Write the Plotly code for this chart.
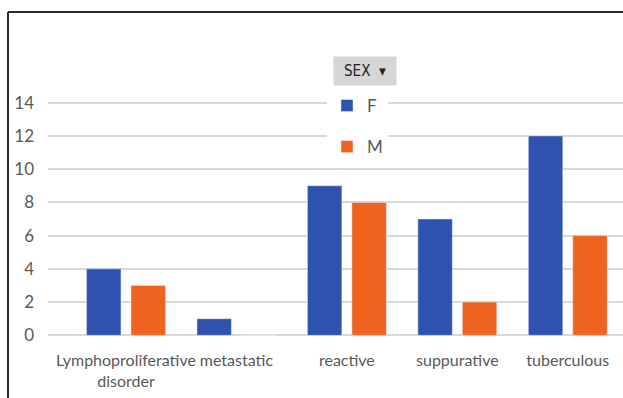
import plotly.graph_objects as go

# Diagnosis counts by sex
categories = ["Lymphoproliferative<br>disorder", "metastatic", "reactive", "suppurative", "tuberculous"]
female = [4, 1, 9, 7, 12]
male = [3, 0, 8, 2, 6]
y_ticks = [0, 2, 4, 6, 8, 10, 12, 14]

BLUE = "#2F52B0"
ORANGE = "#EF631F"
TEXT = "#595959"
FONT = "Lato"

W, H = 623, 398
ML, MR, MT, MB = 48, 0, 101.0, 61.3
PW, PH = W - ML - MR, H - MT - MB


def px_x(x):
    return (x - ML) / PW


def px_y(y):
    return (H - MB - y) / PH


fig = go.Figure()
fig.add_trace(go.Bar(x=categories, y=female, name="F", marker_color=BLUE,
                     legendgroup="F"))
fig.add_trace(go.Bar(x=categories, y=male, name="M", marker_color=ORANGE,
                     legendgroup="M"))

fig.update_layout(
    width=W, height=H,
    margin=dict(l=ML, r=MR, t=MT, b=MB, pad=0, autoexpand=False),
    paper_bgcolor="white", plot_bgcolor="white",
    barmode="group", bargap=0.195, bargroupgap=0.225,
    font=dict(family=FONT, size=17, color=TEXT),
    showlegend=True,
    legend=dict(
        x=px_x(327), y=px_y(88), xanchor="left", yanchor="top",
        bgcolor="white", borderwidth=0,
        traceorder="grouped", tracegroupgap=16,
        font=dict(family=FONT, size=17, color=TEXT),
    ),
    xaxis=dict(
        type="category", range=[-0.706, 4.5], automargin=False,
        showgrid=False, showline=False, zeroline=False,
        ticks="", ticklabelstandoff=12, tickangle=0,
        tickfont=dict(family=FONT, size=16, color=TEXT),
    ),
    yaxis=dict(
        range=[-0.1, 14.1], tickvals=y_ticks, automargin=False,
        showgrid=True, gridcolor="#D9D9D9", gridwidth=1.5,
        zeroline=False, showline=False, ticks="",
        ticklabelstandoff=13,
        tickfont=dict(family=FONT, size=17, color=TEXT),
    ),
)

# frame lines around the chart box
fig.add_shape(type="line", xref="paper", yref="paper",
              x0=px_x(8), x1=px_x(W + 5), y0=px_y(12), y1=px_y(12),
              line=dict(color="#2A2A2A", width=2))
fig.add_shape(type="line", xref="paper", yref="paper",
              x0=px_x(8), x1=px_x(8), y0=px_y(12), y1=px_y(H + 5),
              line=dict(color="#2A2A2A", width=2))

# field button above the legend
fig.add_annotation(
    xref="paper", yref="paper", x=px_x(365), y=px_y(71),
    xanchor="center", yanchor="middle", showarrow=False,
    text="SEX  ▾", width=60, height=26,
    bgcolor="#D6D6D6", borderpad=1,
    font=dict(family="DejaVu Sans Condensed", size=15, color="#222222"),
)

fig.write_html("out.html")
